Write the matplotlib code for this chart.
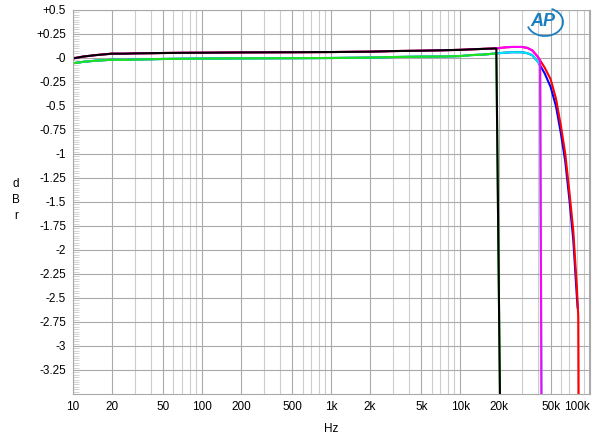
import matplotlib
matplotlib.use("Agg")
import matplotlib.pyplot as plt
from matplotlib.patches import Arc
from matplotlib.ticker import FixedLocator, NullFormatter

plt.rcParams['font.family'] = ['Liberation Sans', 'DejaVu Sans']

# flat part shared by all traces (Hz, dB)
base_f = [10, 12, 15, 20, 25, 30, 40, 50, 70, 100, 200, 500, 1000, 2000,
          3000, 5000, 7000, 10000, 12000, 15000, 19000]
upper_db = [-0.005, 0.015, 0.03, 0.045, 0.045, 0.048, 0.05, 0.052, 0.054, 0.055,
            0.058, 0.06, 0.062, 0.066, 0.072, 0.076, 0.08, 0.085, 0.09, 0.095, 0.1]
lower_db = [-0.055, -0.04, -0.028, -0.018, -0.02, -0.016, -0.013, -0.01, -0.008, -0.006,
            -0.004, -0.002, 0.0, 0.004, 0.01, 0.014, 0.015, 0.02, 0.03, 0.035, 0.048]

# tails above 19 kHz
red_f = [22000, 25000, 30000, 33000, 36000, 40000, 45000, 50000, 55000, 60000,
         65000, 70000, 75000, 80000, 82000, 82500]
red_db = [0.11, 0.115, 0.115, 0.105, 0.08, 0.01, -0.1, -0.22, -0.42, -0.7,
          -1.0, -1.4, -1.8, -2.4, -2.7, -3.6]
blue_f = [22000, 25000, 30000, 33000, 36000, 40000, 45000, 50000, 55000, 60000,
          65000, 70000, 75000, 80000, 81000]
blue_db = [0.055, 0.06, 0.06, 0.05, 0.03, -0.04, -0.16, -0.3, -0.5, -0.78,
           -1.08, -1.48, -1.9, -2.5, -2.6]
magenta_f = [22000, 25000, 30000, 33000, 36000, 40000, 41500, 42500]
magenta_db = [0.11, 0.115, 0.115, 0.105, 0.08, 0.01, -0.03, -3.6]
cyan_f = [22000, 25000, 30000, 33000, 36000, 40000, 41500, 42500]
cyan_db = [0.055, 0.06, 0.06, 0.05, 0.03, -0.04, -0.07, -3.6]
cut20_f = [20300]
cut20_db = [-3.6]

xticks = [10, 20, 50, 100, 200, 500, 1000, 2000, 5000, 10000, 20000, 50000, 100000]
xlabels = ['10', '20', '50', '100', '200', '500', '1k', '2k', '5k', '10k', '20k', '50k', '100k']
yticks = [0.5, 0.25, 0, -0.25, -0.5, -0.75, -1, -1.25, -1.5, -1.75, -2, -2.25,
          -2.5, -2.75, -3, -3.25]
ylabels = ['+0.5', '+0.25', '-0', '-0.25', '-0.5', '-0.75', '-1', '-1.25', '-1.5',
           '-1.75', '-2', '-2.25', '-2.5', '-2.75', '-3', '-3.25']

fig = plt.figure(figsize=(6, 4.37), dpi=100)
ax = fig.add_axes([73 / 600, 43 / 437, 517 / 600, 384 / 437])

traces = [
    (base_f + blue_f, lower_db + blue_db, '#0000ff'),
    (base_f + cyan_f, lower_db + cyan_db, '#00e8f0'),
    (base_f + cut20_f, lower_db + cut20_db, '#20e020'),
    (base_f + red_f, upper_db + red_db, '#ff0000'),
    (base_f + magenta_f, upper_db + magenta_db, '#ff00ff'),
    (base_f + cut20_f, upper_db + cut20_db, '#000000'),
]
for f, db, c in traces:
    ax.plot(f, db, color=c, lw=1.5)

ax.set_xscale('log')
ax.set_xlim(10, 101000)
ax.set_ylim(-3.5, 0.5)

minor_x = [m * 10 ** d for d in range(1, 5) for m in range(2, 10)]
ax.xaxis.set_minor_locator(FixedLocator(minor_x))
ax.xaxis.set_minor_formatter(NullFormatter())
ax.set_xticks(xticks)
ax.set_xticklabels(xlabels)
ax.set_yticks(yticks)
ax.set_yticklabels(ylabels)
ax.yaxis.set_minor_locator(FixedLocator([-3.5 + 0.025 * i for i in range(161)]))

ax.grid(True, which='major', color='#aaaaaa', lw=0.8)
ax.grid(True, which='minor', axis='x', color='#cccccc', lw=0.8)
ax.tick_params(axis='both', which='major', length=0, labelsize=8.5, pad=5)
ax.tick_params(axis='x', which='minor', length=0)
ax.tick_params(axis='y', which='minor', direction='in', length=4, color='#cccccc', width=0.6)
for s in ax.spines.values():
    s.set_color('#aaaaaa')
    s.set_linewidth(0.8)

lbl = ax.get_xticklabels()[-1]
lbl.set_horizontalalignment('right')

ax.set_xlabel('Hz', fontsize=8.5, labelpad=7)
fig.text(16 / 600, 1 - 200 / 437, 'd\nB\nr', fontsize=8.5, ha='center', va='center',
         linespacing=1.4)

# AP logo
fig.text(543 / 600, 1 - 21 / 437, 'AP', fontsize=13, color='#1a7fc1',
         style='italic', weight='bold', ha='center', va='center')
fig.add_artist(Arc((545 / 600, 1 - 22 / 437), 36 / 600, 28 / 437, angle=0,
                   theta1=-160, theta2=70, color='#1a7fc1', lw=1.3,
                   transform=fig.transFigure))

fig.savefig('out.png', dpi=100)
